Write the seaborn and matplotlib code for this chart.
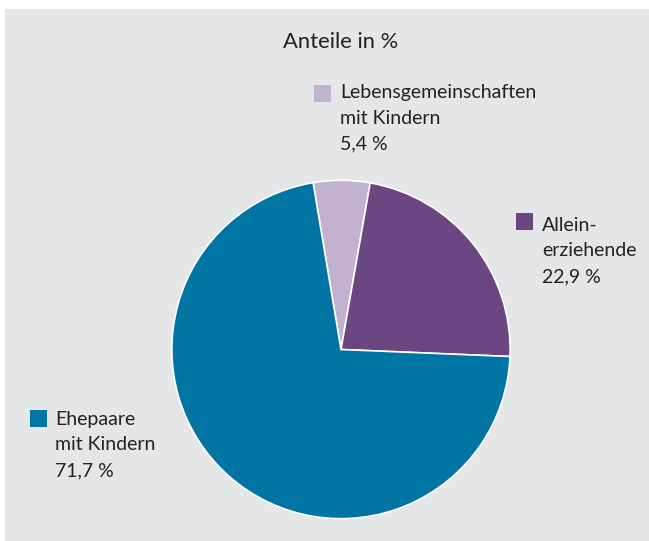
import matplotlib
matplotlib.use("Agg")
import matplotlib.pyplot as plt
import seaborn as sns
from matplotlib.patches import Rectangle

# data
categories = ["Lebensgemeinschaften\nmit Kindern", "Allein-\nerziehende", "Ehepaare\nmit Kindern"]
shares = [5.4, 22.9, 71.7]
share_labels = ["5,4 %", "22,9 %", "71,7 %"]
colors = ["#c2b1cf", "#6c4680", "#0075a3"]
title = "Anteile in %"

sns.set_style("white")
plt.rcParams["font.family"] = ["Lato", "DejaVu Sans"]

W, H = 649, 541
fig = plt.figure(figsize=(W / 100, H / 100), dpi=100)
fig.patch.set_facecolor("white")

# gray panel (behind the axes)
bg = "#e5e6e8"
fig.patches.append(Rectangle((5 / W, 0), 1 - 5 / W, (H - 9) / H,
                             transform=fig.transFigure, facecolor=bg,
                             edgecolor="none", zorder=-5))

# pie axes (center ~ (341, 349.5) px, radius 170 px)
cx, cy, r = 341, H - 349.5, 170
ax = fig.add_axes([(cx - r) / W, (cy - r) / H, 2 * r / W, 2 * r / H])
ax.pie(shares, colors=colors, startangle=99.5, counterclock=False,
       radius=1, wedgeprops=dict(edgecolor="white", linewidth=1.2))
ax.set_xlim(-1.005, 1.005)
ax.set_ylim(-1.005, 1.005)
ax.set_facecolor("none")
ax.axis("off")

fig.text(341 / W, 1 - 42 / H, title, ha="center", va="center",
         fontsize=15.8, color="#222222")

# labels: (square left x, square top y, text x, first baseline y) in px from top-left
label_pos = [(314, 85, 340, 98), (516, 213, 542, 231), (30, 410, 55, 425)]
line_gap = 25.5
for (sx, sy, tx, by), cat, lab, col in zip(label_pos, categories, share_labels, colors):
    fig.patches.append(Rectangle((sx / W, 1 - (sy + 17) / H), 17 / W, 17 / H,
                                 transform=fig.transFigure, facecolor=col,
                                 edgecolor="none", zorder=2))
    lines = cat.split("\n") + [lab]
    for i, line in enumerate(lines):
        fig.text(tx / W, 1 - (by + i * line_gap) / H, line, ha="left",
                 va="baseline", fontsize=14, color="#222222")

fig.savefig("out.png", dpi=100)
